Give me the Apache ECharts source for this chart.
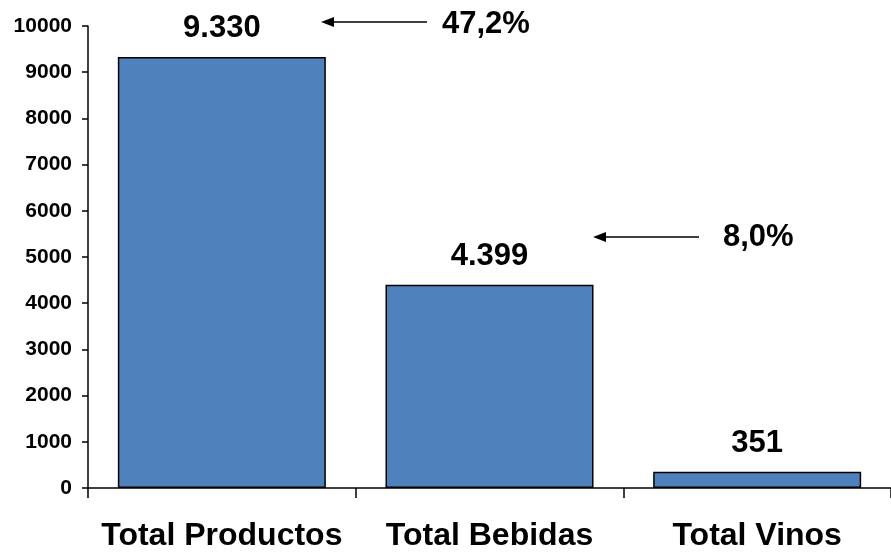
<!DOCTYPE html>
<html>
<head>
<meta charset="utf-8">
<script src="https://cdn.jsdelivr.net/npm/echarts@6/dist/echarts.min.js"></script>
<style>
html, body { margin: 0; padding: 0; background: #fff; }
#main { width: 891px; height: 552px; }
</style>
</head>
<body>
<div id="main"></div>
<script>
var categories = ['Total Productos', 'Total Bebidas', 'Total Vinos'];
var values = [9330, 4399, 351];
var shares = ['47,2%', '8,0%'];

var myChart = echarts.init(document.getElementById('main'));

function fmt(v) {
    // miles con punto
    return String(v).replace(/\B(?=(\d{3})+(?!\d))/g, '.');
}

var font = 'Liberation Sans, Arial, sans-serif';

myChart.setOption({
    animation: false,
    grid: { left: 88, right: -4, top: 26, bottom: 64 },
    xAxis: {
        type: 'category',
        data: categories,
        axisLine: { lineStyle: { color: '#000', width: 1.5 } },
        axisTick: { show: true, interval: 0, length: 10, lineStyle: { color: '#000', width: 1.5 } },
        axisLabel: { interval: 0, hideOverlap: false, color: '#000', fontWeight: 'bold', fontSize: 32, fontFamily: font, margin: 32 }
    },
    yAxis: {
        type: 'value',
        min: 0, max: 10000, interval: 1000,
        splitLine: { show: false },
        axisLine: { show: true, lineStyle: { color: '#000', width: 1.5 } },
        axisTick: { show: true, length: 6, lineStyle: { color: '#000', width: 1.5 } },
        axisLabel: {
            color: '#000', fontWeight: 'bold', fontSize: 21, fontFamily: font, margin: 16,
            formatter: function (v) { return String(v); }
        }
    },
    series: [{
        type: 'bar',
        data: values,
        barWidth: 208,
        itemStyle: { color: '#4F81BD', borderColor: '#000', borderWidth: 1.5 },
        label: {
            show: true, position: 'top', distance: 13,
            color: '#000', fontWeight: 'bold', fontSize: 31, fontFamily: font,
            formatter: function (p) { return fmt(p.value); }
        }
    }],
    graphic: [
        { type: 'line', shape: { x1: 332, y1: 22, x2: 427, y2: 22 }, style: { stroke: '#000', lineWidth: 1.5 } },
        { type: 'polygon', shape: { points: [[321, 22], [334, 17], [334, 27]] }, style: { fill: '#000' } },
        { type: 'text', left: 442, top: 9, style: { text: shares[0], fill: '#000', font: 'bold 31px ' + font } },
        { type: 'line', shape: { x1: 605, y1: 237, x2: 699, y2: 237 }, style: { stroke: '#000', lineWidth: 1.5 } },
        { type: 'polygon', shape: { points: [[593, 237], [606, 232], [606, 242]] }, style: { fill: '#000' } },
        { type: 'text', left: 723, top: 222, style: { text: shares[1], fill: '#000', font: 'bold 31px ' + font } }
    ]
});
</script>
</body>
</html>
